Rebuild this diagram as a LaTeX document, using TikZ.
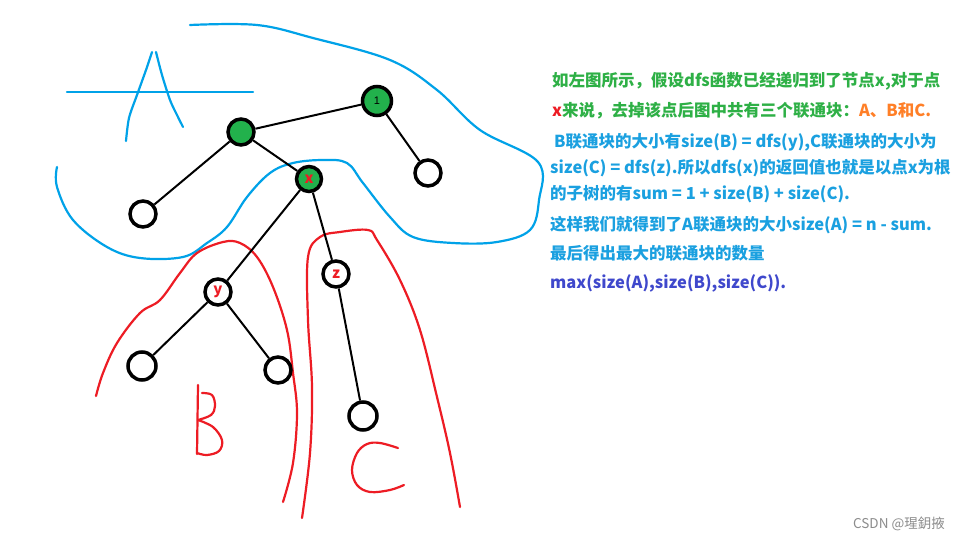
\documentclass[tikz,border=0pt]{standalone}
\usepackage{fontspec}
\setmainfont{Liberation Sans}
\newfontfamily\cjk{Noto Sans CJK SC}
\definecolor{pgreen}{HTML}{22B14C}
\definecolor{tgreen}{HTML}{2EB046}
\definecolor{pred}{HTML}{ED1C24}
\definecolor{porange}{HTML}{FF7F27}
\definecolor{pblue}{HTML}{00A2E8}
\definecolor{tblue}{HTML}{1AA0E0}
\definecolor{ppurple}{HTML}{3F48CC}
\tikzset{
  tnode/.style={circle,draw=black,line width=3.5pt,inner sep=0pt,minimum size=26pt,fill=white},
  gnode/.style={tnode,fill=pgreen},
  edge/.style={draw=black,line width=2pt},
  bluecurve/.style={draw=pblue,line width=2.2pt,line cap=round,line join=round},
  redcurve/.style={draw=pred,line width=2.2pt,line cap=round,line join=round},
  txt/.style={anchor=base west,inner sep=0pt,font=\cjk\bfseries\fontsize{16.5pt}{16.5pt}\selectfont},
  lbl/.style={font=\cjk\bfseries\fontsize{15pt}{15pt}\selectfont,text=pred}
}
\begin{document}
\begin{tikzpicture}[x=1pt,y=-1pt]
\useasboundingbox (0,0) rectangle (959,541);
\fill[white] (0,0) rectangle (959,541);

% blue region A
\draw[bluecurve] (67,92) -- (253,92);
\draw[bluecurve] plot[smooth,tension=0.5] coordinates {(126,141) (129,118) (137,95) (146,70) (152,52)};
\draw[bluecurve] plot[smooth,tension=0.5] coordinates {(156,52) (162,75) (170,100) (177,115) (183,127)};
\draw[bluecurve] plot[smooth,tension=0.6] coordinates {(190,25) (257,25) (313,38) (390,60) (437,90) (480,130) (538,162) (539,200) (530,230) (497,242) (453,243) (413,237) (390,217) (363,183) (347,163) (323,160) (293,163) (270,173) (247,197) (227,227) (207,243) (183,257) (140,258) (107,247) (73,220) (57,187) (57,167)};

% red region B
\draw[redcurve] plot[smooth,tension=0.6] coordinates {(96,396) (103,373) (117,343) (140,313) (160,300) (180,273) (197,253) (223,242) (240,243) (257,257) (273,287) (287,330) (293,373) (297,413) (293,463) (283,502)};
% red region C
\draw[redcurve] plot[smooth,tension=0.6] coordinates {(302,518) (310,453) (312,387) (308,320) (308,257) (320,237) (340,232) (368,230) (377,240) (400,280) (420,330) (437,397) (450,453) (460,507)};

% letter B
\draw[redcurve] (198,385) -- (197,454);
\draw[redcurve] plot[smooth,tension=0.6] coordinates {(202,393) (212,395) (215,406) (211,415) (198,420)};
\draw[redcurve] plot[smooth,tension=0.6] coordinates {(198,420) (213,427) (222,440) (219,451) (207,455) (197,453)};
% letter C
\draw[redcurve] plot[smooth,tension=0.6] coordinates {(398,448) (380,443) (367,444) (357,453) (352,470) (357,485) (370,492) (390,490) (404,485)};

% tree
\node[gnode,minimum size=29pt,font=\fontsize{11pt}{11pt}\selectfont] (r) at (377,101) {1};
\node[gnode] (a) at (241,132) {};
\node[gnode,minimum size=25pt,lbl] (x) at (309,179) {x};
\node[tnode] (rl) at (428,173) {};
\node[tnode] (al) at (143,214) {};
\node[tnode,lbl] (y) at (218,292) {y};
\node[tnode,lbl] (z) at (336,274) {z};
\node[tnode,minimum size=28pt] (yl) at (142,366) {};
\node[tnode] (yr) at (278,370) {};
\node[tnode,minimum size=28pt] (zc) at (363,416) {};
\draw[edge] (a) -- (r);
\draw[edge] (r) -- (rl);
\draw[edge] (a) -- (al);
\draw[edge] (a) -- (x);
\draw[edge] (x) -- (y);
\draw[edge] (x) -- (z);
\draw[edge] (y) -- (yl);
\draw[edge] (y) -- (yr);
\draw[edge] (z) -- (zc);

% text
\node[txt,text=tgreen] (t1) at (552,86) {如左图所示，假设dfs函数已经递归到了节点x,对于点};
\node[txt,text=tgreen] (t2) at (552,116) {\textcolor{pred}{x}来说，去掉该点后图中共有三个联通块：\textcolor{porange}{A、B和C.}};
\node[txt,text=tblue] (t3) at (554,147) {B联通块的大小有size(B) = dfs(y),C联通块的大小为};
\node[txt,text=tblue] (t4) at (550,173) {size(C) = dfs(z).所以dfs(x)的返回值也就是以点x为根};
\node[txt,text=tblue] (t5) at (550,199) {的子树的有sum = 1 + size(B) + size(C).};
\node[txt,text=tblue] (t6) at (550,230) {这样我们就得到了A联通块的大小size(A) = n - sum.};
\node[txt,text=tblue] (t7) at (550,259) {最后得出最大的联通块的数量};
\node[txt,text=ppurple] (t8) at (550,288) {max(size(A),size(B),size(C)).};

\node[anchor=base east,inner sep=0pt,text=black!45,font=\cjk\fontsize{13.5pt}{13.5pt}\selectfont] (wm) at (945,528) {CSDN @瑆鈅掖};
\end{tikzpicture}
\end{document}
